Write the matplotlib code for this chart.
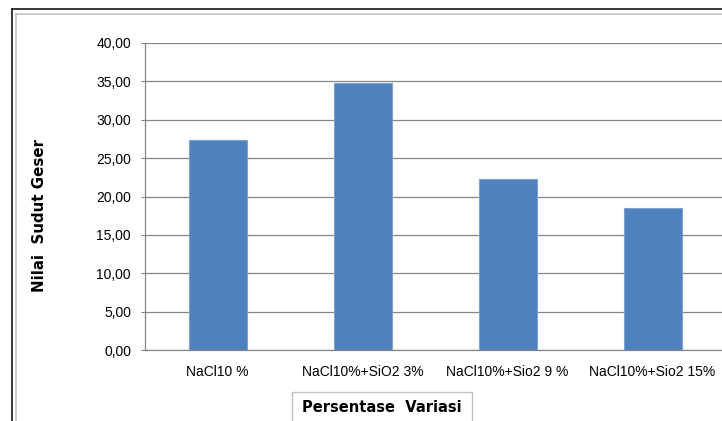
import matplotlib
matplotlib.use("Agg")
import matplotlib.pyplot as plt
from matplotlib.lines import Line2D
from matplotlib.patches import Rectangle

categories = ["NaCl10 %", "NaCl10%+SiO2 3%", "NaCl10%+Sio2 9 %", "NaCl10%+Sio2 15%"]
values = [27.30, 34.80, 22.25, 18.45]
yticks = [0, 5, 10, 15, 20, 25, 30, 35, 40]
ytick_labels = ["0,00", "5,00", "10,00", "15,00", "20,00", "25,00", "30,00", "35,00", "40,00"]

W, H = 722, 421
fig = plt.figure(figsize=(W / 100, H / 100), dpi=100)
fig.patch.set_facecolor("white")


def fx(px):
    return px / W


def fy(py):
    return 1 - py / H


# plot area (extends slightly past the right edge of the canvas)
ax = fig.add_axes([fx(145), fy(350), 580 / W, 307 / H])
x = range(len(categories))
ax.bar(x, values, width=0.4, color="#4F81BD", edgecolor="#7EA1D1",
       linewidth=0.8, zorder=3)
ax.set_xlim(-0.5, len(categories) - 0.5)
ax.set_ylim(0, 40)
ax.set_yticks(yticks)
ax.set_yticklabels(ytick_labels, fontsize=10, family="Liberation Sans")
ax.set_xticks(list(x))
ax.set_xticklabels(categories, fontsize=10, family="Liberation Sans")
ax.tick_params(axis="x", length=0, pad=11)
ax.tick_params(axis="y", length=3, width=0.8, color="#868686", pad=7)
ax.yaxis.grid(True, color="#868686", linewidth=0.9, zorder=0)
ax.set_axisbelow(True)
for s in ("top", "right"):
    ax.spines[s].set_visible(False)
for s in ("left", "bottom"):
    ax.spines[s].set_color("#868686")
    ax.spines[s].set_linewidth(0.9)

# y-axis title
fig.text(fx(40), fy(216), "Nilai  Sudut Geser", rotation=90, ha="center",
         va="center", fontsize=10.8, fontweight="bold", family="DejaVu Sans")

# x-axis title inside its box
fig.add_artist(Rectangle((fx(292), fy(430)), fx(472) - fx(292), fy(392) - fy(430),
                         transform=fig.transFigure, fill=False,
                         edgecolor="#BFBFBF", linewidth=1.0))
fig.text(fx(382), fy(408), "Persentase  Variasi", ha="center", va="center",
         fontsize=10.5, fontweight="bold", family="DejaVu Sans")

# chart frame: outer black border and inner grey border
fig.add_artist(Line2D([fx(12), fx(12)], [fy(430), fy(9)], transform=fig.transFigure,
                      color="black", linewidth=1.1))
fig.add_artist(Line2D([fx(12), fx(730)], [fy(9), fy(9)], transform=fig.transFigure,
                      color="black", linewidth=1.1))
fig.add_artist(Line2D([fx(15.5), fx(15.5)], [fy(430), fy(13.5)], transform=fig.transFigure,
                      color="#BDBDBD", linewidth=1.1))
fig.add_artist(Line2D([fx(15.5), fx(730)], [fy(13.5), fy(13.5)], transform=fig.transFigure,
                      color="#BDBDBD", linewidth=1.1))

fig.savefig("out.png", dpi=100, facecolor="white")
